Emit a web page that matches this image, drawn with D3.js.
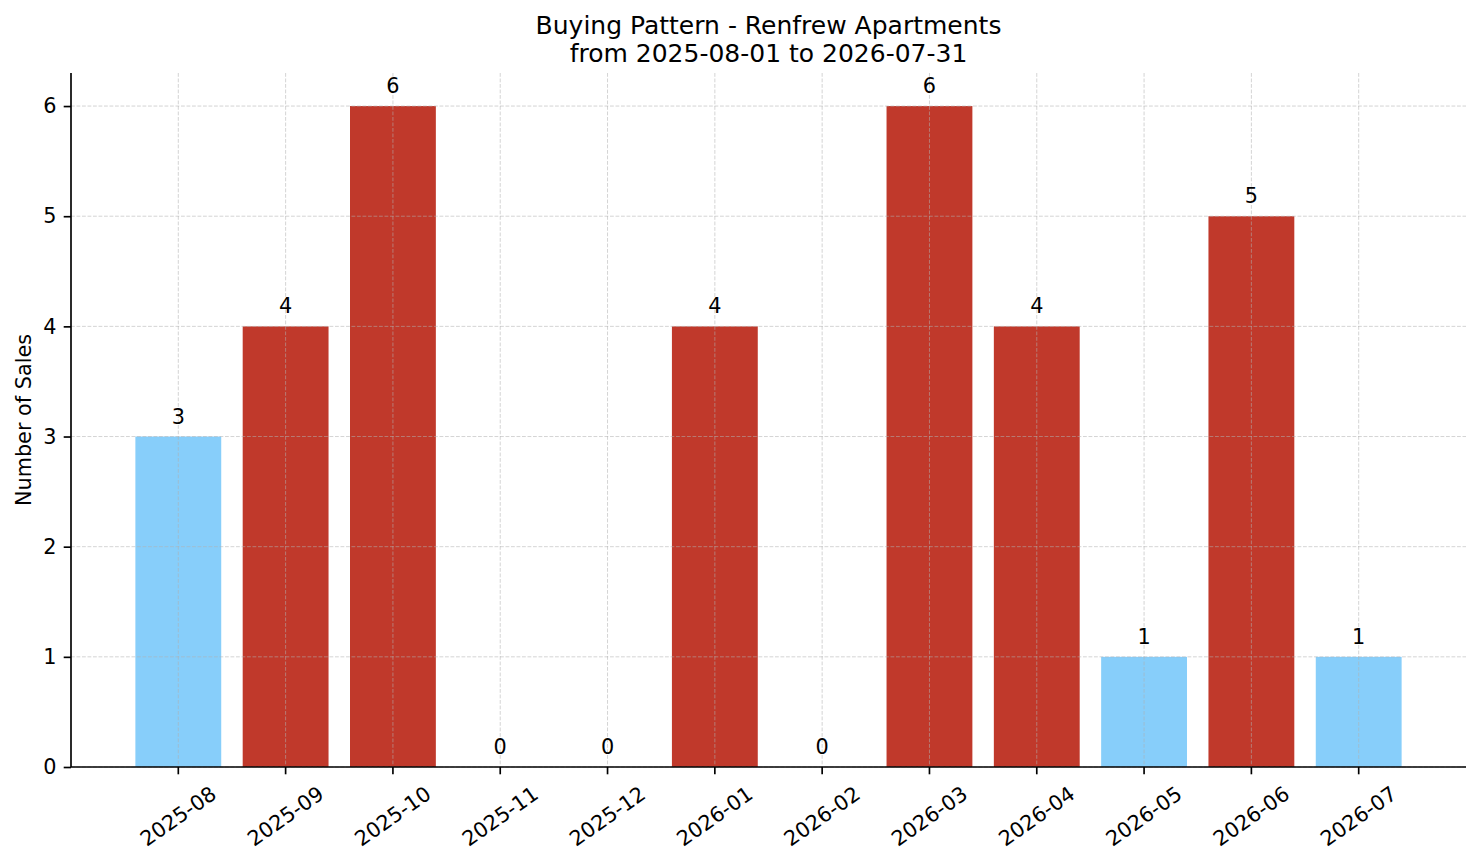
<!DOCTYPE html>
<html>
<head>
<meta charset="utf-8">
<script src="https://cdn.jsdelivr.net/npm/d3@7"></script>
<style>
  body { margin: 0; background: #fff; }
  text { font-family: "DejaVu Sans", sans-serif; fill: #000; }
</style>
</head>
<body>
<script>
// data
const months = ['2025-08', '2025-09', '2025-10', '2025-11', '2025-12', '2026-01',
                '2026-02', '2026-03', '2026-04', '2026-05', '2026-06', '2026-07'];
const sales = [3, 4, 6, 0, 0, 4, 0, 6, 4, 1, 5, 1];
const yTicks = [0, 1, 2, 3, 4, 5, 6];
const titleLines = ['Buying Pattern - Renfrew Apartments', 'from 2025-08-01 to 2026-07-31'];

const width = 1481, height = 863;
const margin = { left: 71, right: 15, top: 73, bottom: 96 };
const innerW = width - margin.left - margin.right;
const innerH = height - margin.top - margin.bottom;
const fontSize = 20.8;

// bars under 4 sales in light blue, the rest red
const color = d3.scaleThreshold().domain([4]).range(['#87cefa', '#c0392b']);

const svg = d3.select('body').append('svg')
    .attr('width', width)
    .attr('height', height);

const g = svg.append('g')
    .attr('transform', `translate(${margin.left}, ${margin.top})`);

const x = d3.scaleBand()
    .domain(months)
    .range([0, innerW])
    .paddingInner(0.2)
    .paddingOuter(0.6);

const y = d3.scaleLinear()
    .domain([0, 6.3])
    .range([innerH, 0]);

const rows = months.map((m, i) => ({ month: m, value: sales[i] }));

//bars
g.append('g')
    .selectAll('rect')
    .data(rows)
    .enter()
    .append('rect')
    .attr('x', d => x(d.month))
    .attr('y', d => y(d.value))
    .attr('width', x.bandwidth())
    .attr('height', d => innerH - y(d.value))
    .attr('fill', d => color(d.value));

//grid (drawn over the bars)
const grid = g.append('g')
    .attr('stroke', '#b0b0b0')
    .attr('stroke-opacity', 0.55)
    .attr('stroke-width', 1)
    .attr('stroke-dasharray', '3.8,1.7');

grid.selectAll('.vgrid')
    .data(months)
    .enter()
    .append('line')
    .attr('x1', d => x(d) + x.bandwidth() / 2)
    .attr('x2', d => x(d) + x.bandwidth() / 2)
    .attr('y1', 0)
    .attr('y2', innerH);

grid.selectAll('.hgrid')
    .data(yTicks)
    .enter()
    .append('line')
    .attr('x1', 0)
    .attr('x2', innerW)
    .attr('y1', d => y(d))
    .attr('y2', d => y(d));

//value labels
g.append('g')
    .selectAll('text')
    .data(rows)
    .enter()
    .append('text')
    .attr('x', d => x(d.month) + x.bandwidth() / 2)
    .attr('y', d => y(d.value) - 13)
    .attr('text-anchor', 'middle')
    .style('font-size', fontSize + 'px')
    .text(d => d.value);

//y axis
const yAxis = d3.axisLeft(y)
    .tickValues(yTicks)
    .tickSize(7.3)
    .tickPadding(7.3)
    .tickFormat(d3.format('d'));

const yG = g.append('g').call(yAxis);
yG.select('.domain').attr('d', `M0,0V${innerH}`);

//x axis
const xAxis = d3.axisBottom(x)
    .tickSize(7.3)
    .tickPadding(7.3);

const xG = g.append('g')
    .attr('transform', `translate(0, ${innerH})`)
    .call(xAxis);
xG.select('.domain').attr('d', `M0,0H${innerW}`);

[yG, xG].forEach(a => {
    a.select('.domain').attr('stroke', '#000').attr('stroke-width', 1.67);
    a.selectAll('.tick line').attr('stroke', '#000').attr('stroke-width', 1.67);
    a.selectAll('.tick text')
        .style('font-family', '"DejaVu Sans", sans-serif')
        .style('font-size', fontSize + 'px')
        .attr('fill', '#000');
});

// rotate month labels, centre of rotated box under the tick
const angle = 35 * Math.PI / 180;
xG.selectAll('.tick text').each(function () {
    const t = d3.select(this);
    const w = this.getComputedTextLength();
    const h = fontSize * 1.16;
    const cy = 14.6 + (w * Math.sin(angle) + h * Math.cos(angle)) / 2;
    t.attr('y', null)
        .attr('dy', null)
        .attr('dominant-baseline', 'central')
        .attr('text-anchor', 'middle')
        .attr('transform', `translate(0, ${cy}) rotate(-35)`);
});

//y label
svg.append('text')
    .attr('transform', `translate(31, ${margin.top + innerH / 2}) rotate(-90)`)
    .attr('text-anchor', 'middle')
    .style('font-size', fontSize + 'px')
    .text('Number of Sales');

//title
svg.append('g')
    .selectAll('text')
    .data(titleLines)
    .enter()
    .append('text')
    .attr('x', margin.left + innerW / 2)
    .attr('y', (d, i) => 34 + i * 28)
    .attr('text-anchor', 'middle')
    .style('font-size', '25px')
    .text(d => d);
</script>
</body>
</html>
